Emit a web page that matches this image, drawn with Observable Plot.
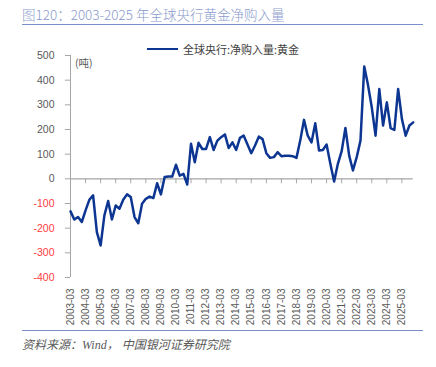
<!DOCTYPE html>
<html>
<head>
<meta charset="utf-8">
<script src="https://cdn.jsdelivr.net/npm/d3@7"></script>
<script src="https://cdn.jsdelivr.net/npm/@observablehq/plot@0.6"></script>
<style>
  html, body { margin: 0; padding: 0; background: #fff; }
  #wrap { position: relative; width: 436px; height: 367px; overflow: hidden; font-family: "Noto Sans CJK SC", "Noto Sans", sans-serif; }
  #chart { position: absolute; left: 0; top: 0; }
  .title { position: absolute; left: 22px; top: 4px; font-size: 13.5px; color: #8a9bcd; white-space: nowrap; font-weight: 300; }
  .rule { position: absolute; left: 22px; width: 401px; height: 0; border-top: 1.5px solid #7a8fc8; }
  .legend { position: absolute; left: 147px; top: 41px; font-size: 11px; color: #404040; white-space: nowrap; display: flex; align-items: center; }
  .legend .sw { display: inline-block; width: 31px; height: 0; border-top: 2.5px solid #0d3692; margin-right: 5px; }
  .unit { position: absolute; left: 75px; top: 55px; font-size: 10.5px; color: #595959; }
  .caption { position: absolute; left: 22px; top: 335px; font-size: 12px; color: #595959; font-style: italic; white-space: nowrap; font-family: "Liberation Serif", "Noto Sans CJK SC", serif; }
</style>
</head>
<body>
<div id="wrap">
  <div class="title">图120：2003-2025 年全球央行黄金净购入量</div>
  <div class="rule" style="top:24px"></div>
  <div class="legend"><span class="sw"></span><span>全球央行:净购入量:黄金</span></div>
  <div class="unit">(吨)</div>
  <div id="chart"></div>
  <div class="rule" style="top:330px"></div>
  <div class="caption">资料来源：Wind， 中国银河证券研究院</div>
</div>
<script>
// Quarterly net purchases (tonnes), 2003-Q1 … 2025-Q4
const years = d3.range(2003, 2026);
const quarterMonths = ["03", "06", "09", "12"];
const quarters = years.flatMap(y => quarterMonths.map(m => `${y}-${m}`));
const values = [
  -132, -165, -155, -175,   // 2003
  -128, -85, -67, -216,     // 2004
  -270, -148, -90, -165,    // 2005
  -108, -121, -85, -63,     // 2006
  -74, -155, -180, -101,    // 2007
  -81, -72, -78, -18,       // 2008
  -63, 7, 9, 9,             // 2009
  57, 13, 20, -23,          // 2010
  142, 67, 146, 121,        // 2011
  121, 169, 117, 155,       // 2012
  169, 180, 125, 148,       // 2013
  117, 166, 175, 139,       // 2014
  104, 135, 171, 161,       // 2015
  104, 85, 88, 108,         // 2016
  92, 94, 94, 92,           // 2017
  85, 155, 239, 175,        // 2018
  148, 225, 115, 117,       // 2019
  139, 61, -11, 61,         // 2020
  112, 206, 94, 34,         // 2021
  88, 155, 455, 380,        // 2022
  290, 175, 364, 216,       // 2023
  310, 206, 198, 364,       // 2024
  243, 175, 216, 229        // 2025
];
const tickLabels = years.map(y => `${y}-03`);
const yTicks = [-400, -300, -200, -100, 0, 100, 200, 300, 400, 500];

const data = quarters.map((q, i) => ({ i, q, v: values[i] }));
const xTickData = tickLabels.map(t => ({ i: quarters.indexOf(t), t }));
const yPos = yTicks.filter(d => d >= 0);
const yNeg = yTicks.filter(d => d < 0);

const plot = Plot.plot({
  width: 436,
  height: 367,
  marginLeft: 70,
  marginRight: 23.3,
  marginTop: 55,
  marginBottom: 90,
  style: { fontFamily: "'Liberation Sans', 'Noto Sans', sans-serif", background: "transparent" },
  x: { domain: [0, quarters.length - 1], axis: null },
  y: { domain: [-400, 500], axis: null },
  marks: [
    Plot.ruleY(yTicks, { y: d => d, x1: -1.35, x2: 0, stroke: "#a6a6a6", strokeWidth: 1 }),
    Plot.text(yPos, { x: 0, y: d => d, text: d => String(d), dx: -16, textAnchor: "end", fontSize: 10.5, fill: "#595959" }),
    Plot.text(yNeg, { x: 0, y: d => d, text: d => String(d), dx: -16, textAnchor: "end", fontSize: 10.5, fill: "#ff4040" }),
    Plot.ruleX([0], { y1: -400, y2: 500, stroke: "#a6a6a6", strokeWidth: 1 }),
    Plot.ruleY([0], { x1: 0, x2: quarters.length - 1, stroke: "#a6a6a6", strokeWidth: 1.2 }),
    Plot.ruleX(xTickData, { x: "i", y1: 0, y2: -20, stroke: "#a6a6a6", strokeWidth: 1 }),
    Plot.text(xTickData, { x: "i", y: -400, text: "t", rotate: -90, textAnchor: "end", dy: 11, fontSize: 10, fill: "#595959" }),
    Plot.line(data, { x: "i", y: "v", stroke: "#0d3692", strokeWidth: 2.5, strokeLinejoin: "round" })
  ]
});
document.getElementById("chart").appendChild(plot);
</script>
</body>
</html>
